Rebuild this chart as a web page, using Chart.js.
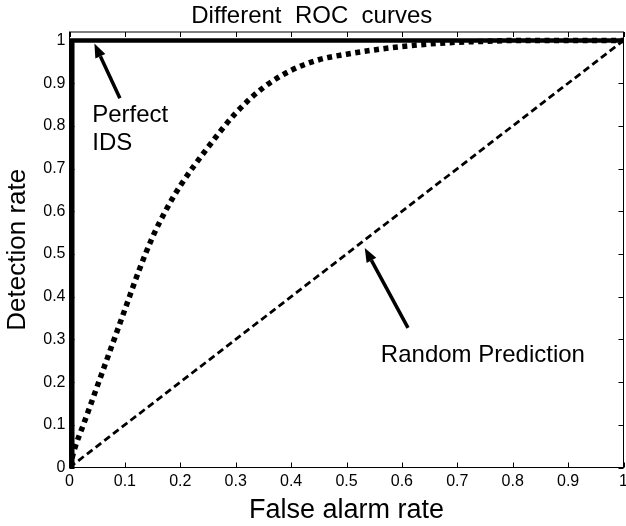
<!DOCTYPE html>
<html>
<head>
<meta charset="utf-8">
<script src="https://cdn.jsdelivr.net/npm/chart.js@4/dist/chart.umd.min.js"></script>
<style>
  html, body { margin: 0; padding: 0; background: #fff; }
  #roc { display: block; }
</style>
</head>
<body>
<canvas id="roc" width="626" height="526"></canvas>
<script>
// ROC curves data

const perfectFpr = [0.005, 0.005, 1];
const perfectTpr = [0, 1, 1];

const curveFpr = [0, 0.01, 0.025, 0.05, 0.075, 0.1, 0.125, 0.15, 0.175, 0.2, 0.25, 0.3, 0.35, 0.4, 0.45, 0.5, 0.55, 0.6, 0.65, 0.7, 0.75, 0.8, 0.9, 1];
const curveTpr = [0, 0.047, 0.10, 0.19, 0.28, 0.37, 0.46, 0.54, 0.605, 0.66, 0.75, 0.83, 0.89, 0.93, 0.955, 0.968, 0.978, 0.986, 0.992, 0.996, 0.998, 1, 1, 1];

const randomFpr = [0, 1];
const randomTpr = [0, 1];

const xTicks = [0, 0.1, 0.2, 0.3, 0.4, 0.5, 0.6, 0.7, 0.8, 0.9, 1];
const yTicks = [0, 0.1, 0.2, 0.3, 0.4, 0.5, 0.6, 0.7, 0.8, 0.9, 1];

const toPoints = (xs, ys) => xs.map((x, i) => ({ x: x, y: ys[i] }));
// matlab style labels: 0, 0.1 ... 1
const tickLabel = (v) => String(Math.round(v * 10) / 10);

const FONT = "'Liberation Sans', Arial, Helvetica, sans-serif";

// text labels + arrows, placed in data units
const notes = [
  { text: 'Perfect', x: 0.041, y: 0.809 },
  { text: 'IDS', x: 0.041, y: 0.744 },
  { text: 'Random Prediction', x: 0.562, y: 0.248 }
];
const arrows = [
  { from: [0.091, 0.865], to: [0.045, 0.993] },
  { from: [0.611, 0.327], to: [0.533, 0.514] }
];

// box round the plot, ticks pointing inwards on all four sides
const boxPlugin = {
  id: 'box',
  afterDatasetsDraw(chart) {
    const { ctx, chartArea: a, scales: { x, y } } = chart;
    ctx.save();
    ctx.strokeStyle = '#000';
    ctx.lineWidth = 1;
    ctx.strokeRect(a.left, a.top, a.right - a.left, a.bottom - a.top);
    ctx.beginPath();
    xTicks.forEach(v => {
      const px = Math.round(x.getPixelForValue(v)) + 0.5;
      ctx.moveTo(px, a.bottom); ctx.lineTo(px, a.bottom - 5);
      ctx.moveTo(px, a.top); ctx.lineTo(px, a.top + 5);
    });
    yTicks.forEach(v => {
      const py = Math.round(y.getPixelForValue(v)) + 0.5;
      ctx.moveTo(a.left, py); ctx.lineTo(a.left + 5, py);
      ctx.moveTo(a.right, py); ctx.lineTo(a.right - 5, py);
    });
    ctx.stroke();
    ctx.restore();
  }
};

const notesPlugin = {
  id: 'notes',
  afterDatasetsDraw(chart) {
    const { ctx, scales: { x, y } } = chart;
    ctx.save();
    ctx.fillStyle = '#000';
    ctx.strokeStyle = '#000';
    ctx.font = '24px ' + FONT;
    ctx.textAlign = 'left';
    ctx.textBaseline = 'alphabetic';
    notes.forEach(n => ctx.fillText(n.text, x.getPixelForValue(n.x), y.getPixelForValue(n.y)));

    arrows.forEach(ar => {
      const x0 = x.getPixelForValue(ar.from[0]), y0 = y.getPixelForValue(ar.from[1]);
      const x1 = x.getPixelForValue(ar.to[0]), y1 = y.getPixelForValue(ar.to[1]);
      const ang = Math.atan2(y1 - y0, x1 - x0);
      const headLen = 14, headW = 5.5;
      const bx = x1 - headLen * Math.cos(ang), by = y1 - headLen * Math.sin(ang);
      ctx.lineWidth = 3.5;
      ctx.beginPath();
      ctx.moveTo(x0, y0);
      ctx.lineTo(bx, by);
      ctx.stroke();
      ctx.beginPath();
      ctx.moveTo(x1, y1);
      ctx.lineTo(bx + headW * Math.sin(ang), by - headW * Math.cos(ang));
      ctx.lineTo(bx - headW * Math.sin(ang), by + headW * Math.cos(ang));
      ctx.closePath();
      ctx.fill();
    });
    ctx.restore();
  }
};

const rocChart = new Chart(document.querySelector('#roc'), {
  type: 'line',
  data: {
    datasets: [
      {
        label: 'Perfect IDS',
        data: toPoints(perfectFpr, perfectTpr),
        borderColor: '#000',
        borderWidth: 4.5,
        pointRadius: 0,
        tension: 0
      },
      {
        label: 'ROC curve',
        data: toPoints(curveFpr, curveTpr),
        borderColor: '#000',
        borderWidth: 5.5,
        borderDash: [5, 4.5],
        borderCapStyle: 'butt',
        pointRadius: 0,
        cubicInterpolationMode: 'monotone'
      },
      {
        label: 'Random Prediction',
        data: toPoints(randomFpr, randomTpr),
        borderColor: '#000',
        borderWidth: 2.8,
        borderDash: [7, 4],
        pointRadius: 0,
        tension: 0
      }
    ]
  },
  options: {
    responsive: false,
    animation: false,
    devicePixelRatio: 1,
    layout: {
      padding: { top: 0, left: 0, right: 2.5, bottom: 0 }
    },
    scales: {
      x: {
        type: 'linear',
        min: 0,
        max: 1,
        afterBuildTicks: (axis) => { axis.ticks = xTicks.map(v => ({ value: v })); },
        afterFit: (axis) => { axis.height = 58.5; axis.paddingLeft = 0; axis.paddingRight = 0; },
        ticks: {
          color: '#000',
          padding: 4,
          maxRotation: 0,
          autoSkip: false,
          callback: tickLabel,
          font: { family: FONT, size: 16 }
        },
        grid: { display: false, drawTicks: false },
        border: { display: false },
        title: {
          display: true,
          text: 'False alarm rate',
          color: '#000',
          font: { family: FONT, size: 27, lineHeight: 1 },
          padding: { top: 0, bottom: 2 }
        }
      },
      y: {
        type: 'linear',
        min: 0,
        max: 1.02,
        afterBuildTicks: (axis) => { axis.ticks = yTicks.map(v => ({ value: v })); },
        afterFit: (axis) => { axis.width = 69.5; },
        ticks: {
          color: '#000',
          padding: 4,
          autoSkip: false,
          callback: tickLabel,
          font: { family: FONT, size: 16 }
        },
        grid: { display: false, drawTicks: false },
        border: { display: false },
        title: {
          display: true,
          text: 'Detection rate',
          color: '#000',
          font: { family: FONT, size: 26, lineHeight: 1.2 },
          padding: { top: 2, bottom: 0 }
        }
      }
    },
    plugins: {
      legend: { display: false },
      tooltip: { enabled: false },
      title: {
        display: true,
        text: 'Different  ROC  curves',
        color: '#000',
        font: { family: FONT, size: 24, weight: 'normal', lineHeight: 1.2 },
        padding: { top: 1.5, bottom: 1.7 }
      }
    }
  },
  plugins: [boxPlugin, notesPlugin]
});
</script>
</body>
</html>
